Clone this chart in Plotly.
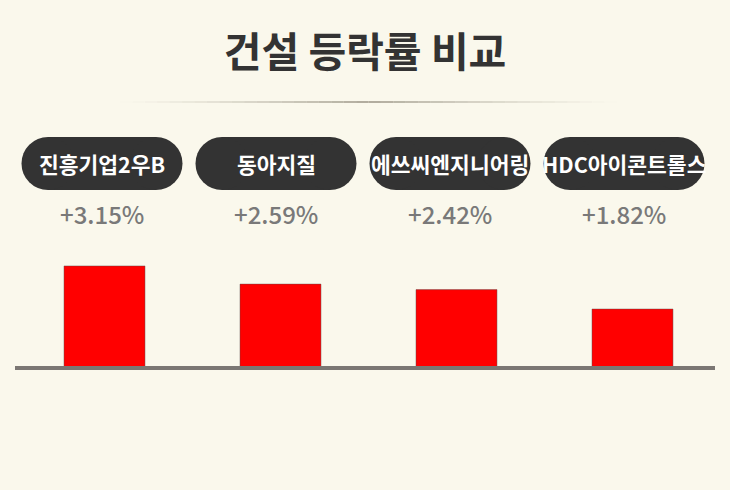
import plotly.graph_objects as go

# data
names = ["진흥기업2우B", "동아지질", "에쓰씨엔지니어링", "HDC아이콘트롤스"]
changes = [3.15, 2.59, 2.42, 1.82]
title_text = "건설 등락률 비교"

BG = "#faf8ec"
DARK = "#333333"
FONT = "Noto Sans CJK KR"

labels = [f"+{v:.2f}%" for v in changes]

fig = go.Figure()

fig.add_trace(go.Bar(
    x=names,
    y=changes,
    width=0.46,
    marker=dict(color="#ff0000", line=dict(color="rgba(90,70,70,0.45)", width=1)),
    hoverinfo="skip",
    showlegend=False,
))

# invisible trace so the header axis knows the categories
fig.add_trace(go.Scatter(
    x=names, y=changes, xaxis="x2", mode="markers",
    marker=dict(opacity=0), hoverinfo="skip", showlegend=False,
))

# header pills and percent labels sit on a second (hidden) category axis
PY = 0.5557
for name, lab in zip(names, labels):
    fig.add_shape(type="rect", xref="x2", yref="paper",
                  xsizemode="pixel", ysizemode="pixel",
                  xanchor=name, yanchor=PY,
                  x0=-54, x1=54, y0=-26.5, y1=26.5,
                  fillcolor=DARK, line_width=0, layer="above")
    for cx in (-54, 54):
        fig.add_shape(type="circle", xref="x2", yref="paper",
                      xsizemode="pixel", ysizemode="pixel",
                      xanchor=name, yanchor=PY,
                      x0=cx - 26.5, x1=cx + 26.5, y0=-26.5, y1=26.5,
                      fillcolor=DARK, line_width=0, layer="above")
    fig.add_annotation(x=name, xref="x2", y=PY, yref="paper",
                       text=f"<b>{name}</b>", showarrow=False,
                       font=dict(family=FONT, size=21.5, color="white"))
    fig.add_annotation(x=name, xref="x2", y=0.4185, yref="paper",
                       text=lab, showarrow=False,
                       font=dict(family=FONT, size=24, weight=500, color="#797979"))

# faded divider under title
n = 40
for i in range(n):
    t = (i + 0.5) / n
    a = 1 - abs(t - 0.5) * 2
    fig.add_shape(type="line", xref="paper", yref="paper",
                  x0=0.15 + 0.71 * i / n, x1=0.15 + 0.71 * (i + 1) / n,
                  y0=0.7228, y1=0.7228,
                  line=dict(color=f"rgba(150,145,130,{0.75 * a ** 1.3:.3f})", width=2))

# baseline
fig.add_shape(type="line", xref="paper", yref="paper", x0=0, x1=1, y0=0, y1=0,
              line=dict(color="#7b7773", width=4), layer="above")

fig.update_layout(
    width=730, height=490,
    paper_bgcolor=BG, plot_bgcolor=BG,
    margin=dict(l=15, r=15, t=0, b=122),
    title=dict(text=f"<b>{title_text}</b>", x=0.5, xanchor="center",
               y=1 - 53 / 490, yanchor="middle", yref="container",
               font=dict(family=FONT, size=41, color=DARK)),
    xaxis=dict(visible=False, range=[-0.5085, 3.4688], fixedrange=True),
    xaxis2=dict(visible=False, overlaying="x", categoryorder="array",
                categoryarray=names, range=[-0.5, 3.523], fixedrange=True),
    yaxis=dict(visible=False, range=[0, 11.36], fixedrange=True),
    font=dict(family=FONT),
)

fig.write_html("out.html", config={"displayModeBar": False},
               post_script="document.body.style.margin='0';")
